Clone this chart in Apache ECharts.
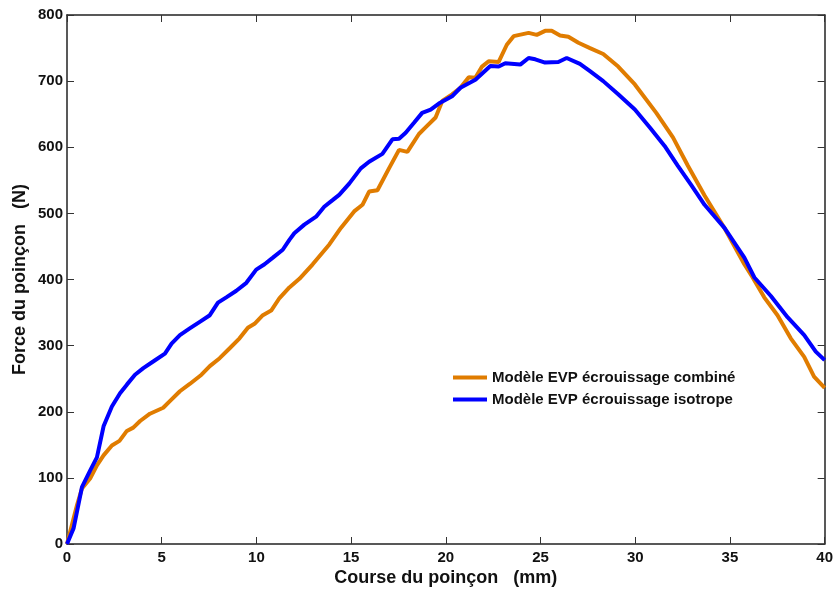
<!DOCTYPE html>
<html>
<head>
<meta charset="utf-8">
<script src="https://cdn.jsdelivr.net/npm/echarts@6/dist/echarts.min.js"></script>
<style>html,body{margin:0;padding:0;background:#fff}#c{width:836px;height:592px}</style>
</head>
<body>
<div id="c"></div>
<script>
const xTicks = [0, 5, 10, 15, 20, 25, 30, 35, 40];
const yTicks = [0, 100, 200, 300, 400, 500, 600, 700, 800];
const seriesNames = ['Modèle EVP écrouissage combiné', 'Modèle EVP écrouissage isotrope'];

const combX = [0, 0.53, 0.79, 1.22, 1.58, 1.93, 2.37, 2.77, 3.16, 3.5, 3.86, 4.38, 5.08, 5.43, 5.96, 6.48, 7.1, 7.54, 8.06, 8.59, 9.11, 9.55, 9.9, 10.34, 10.78, 11.22, 11.74, 12.27, 12.97, 13.85, 14.46, 15.16, 15.6, 15.95, 16.39, 17.0, 17.53, 17.97, 18.58, 18.93, 19.46, 19.81, 20.33, 20.77, 21.21, 21.56, 21.91, 22.26, 22.79, 23.22, 23.58, 24.37, 24.8, 25.24, 25.59, 26.03, 26.47, 27.0, 27.61, 28.31, 29.1, 29.98, 31.11, 31.99, 32.78, 33.66, 34.71, 35.76, 36.2, 36.81, 37.51, 38.21, 38.92, 39.44, 40.0];
const combY = [0, 59, 84, 99, 119, 134, 149, 156, 171, 176, 186, 197, 206, 216, 231, 242, 256, 269, 281, 296, 311, 327, 333, 346, 353, 372, 388, 401, 423, 453, 478, 503, 513, 533, 535, 568, 596, 593, 620, 630, 645, 670, 680, 690, 706, 705, 722, 730, 729, 755, 768, 773, 770, 776, 776, 769, 767, 758, 750, 741, 722, 695, 652, 615, 572, 527, 478, 423, 403, 373, 346, 311, 283, 253, 236];

const isoX = [0, 0.35, 0.79, 1.22, 1.58, 1.93, 2.37, 2.8, 3.16, 3.59, 4.03, 4.55, 5.17, 5.52, 5.96, 6.48, 7.01, 7.54, 7.97, 8.41, 8.94, 9.47, 9.99, 10.43, 10.87, 11.39, 11.74, 12.0, 12.53, 13.15, 13.58, 14.02, 14.37, 14.9, 15.51, 15.95, 16.65, 17.18, 17.53, 17.88, 18.32, 18.75, 19.2, 19.63, 20.33, 20.77, 21.56, 22.35, 22.79, 23.14, 23.93, 24.37, 24.72, 25.24, 25.94, 26.38, 27.08, 27.61, 28.31, 29.1, 29.98, 30.77, 31.55, 32.25, 32.95, 33.66, 34.71, 35.76, 36.29, 37.16, 38.04, 38.92, 39.53, 40.0];
const isoY = [0, 24, 86, 111, 131, 178, 208, 228, 241, 256, 266, 276, 288, 303, 316, 326, 336, 346, 365, 373, 383, 395, 415, 423, 433, 445, 460, 470, 483, 495, 510, 520, 528, 545, 568, 578, 590, 612, 613, 622, 637, 652, 657, 666, 677, 690, 702, 723, 722, 727, 725, 735, 733, 728, 729, 735, 726, 715, 700, 680, 657, 630, 602, 572, 543, 513, 478, 433, 403, 375, 343, 316, 291, 278];

const pair = (xs, ys) => xs.map((x, i) => [x, ys[i]]);
const FONT = 'Liberation Sans, Arial, sans-serif';
const axisLine = { show: true, onZero: false, lineStyle: { color: '#222', width: 1.5 } };
const tick = { show: true, inside: true, length: 7, lineStyle: { color: '#333', width: 1 } };

const chart = echarts.init(document.getElementById('c'), null, { renderer: 'canvas' });
chart.setOption({
  animation: false,
  backgroundColor: '#fff',
  grid: { left: 67, right: 9, top: 15, bottom: 43, containLabel: false },
  legend: {
    orient: 'vertical', left: 453, top: 370, padding: 0,
    icon: 'rect', itemWidth: 34, itemHeight: 4, itemGap: 7,
    textStyle: { fontFamily: FONT, fontWeight: 'bold', fontSize: 15, color: '#111' },
    data: seriesNames
  },
  xAxis: [{
    type: 'value', min: 0, max: 40, interval: 5, position: 'bottom',
    name: 'Course du poinçon   (mm)', nameLocation: 'middle', nameGap: 25, nameMoveOverlap: false,
    nameTextStyle: { fontFamily: FONT, fontWeight: 'bold', fontSize: 18, color: '#111' },
    axisLine: axisLine, axisTick: tick, splitLine: { show: false },
    axisLabel: { fontFamily: FONT, fontWeight: 'bold', fontSize: 15, color: '#111', margin: 6 }
  }, {
    type: 'value', min: 0, max: 40, interval: 5, position: 'top',
    axisLine: axisLine, axisTick: tick, axisLabel: { show: false }, splitLine: { show: false }
  }],
  yAxis: [{
    type: 'value', min: 0, max: 800, interval: 100, position: 'left',
    name: 'Force du poinçon   (N)', nameLocation: 'middle', nameGap: 38, nameMoveOverlap: false,
    nameTextStyle: { fontFamily: FONT, fontWeight: 'bold', fontSize: 18, color: '#111' },
    axisLine: axisLine, axisTick: tick, splitLine: { show: false },
    axisLabel: { fontFamily: FONT, fontWeight: 'bold', fontSize: 15, color: '#111', margin: 4 }
  }, {
    type: 'value', min: 0, max: 800, interval: 100, position: 'right',
    axisLine: axisLine, axisTick: tick, axisLabel: { show: false }, splitLine: { show: false }
  }],
  series: [{
    name: seriesNames[0], type: 'line', showSymbol: false, symbol: 'none',
    data: pair(combX, combY), color: '#E07C00',
    lineStyle: { color: '#E07C00', width: 4 }
  }, {
    name: seriesNames[1], type: 'line', showSymbol: false, symbol: 'none',
    data: pair(isoX, isoY), color: '#0000FF',
    lineStyle: { color: '#0000FF', width: 4 }
  }]
});
</script>
</body>
</html>
